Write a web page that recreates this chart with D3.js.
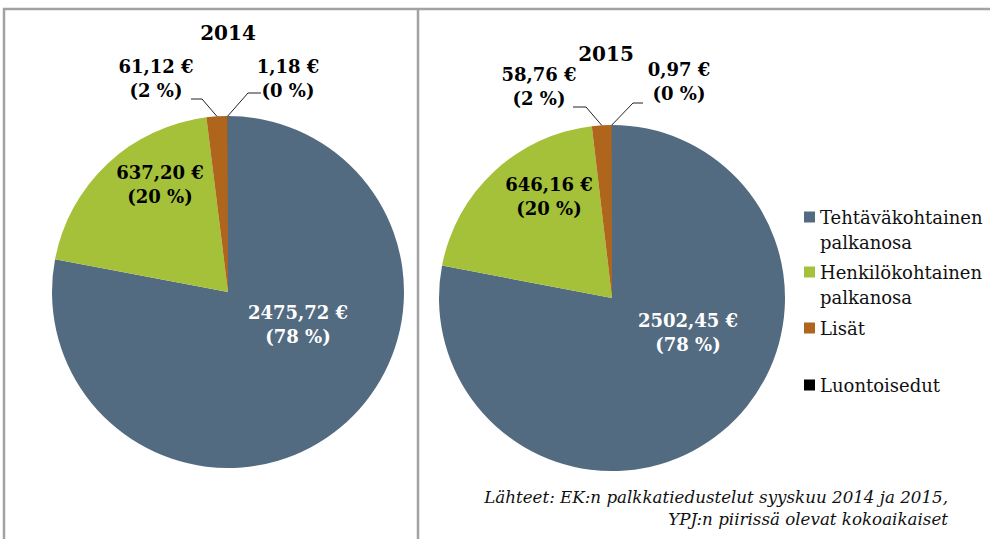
<!DOCTYPE html>
<html>
<head>
<meta charset="utf-8">
<script src="https://cdn.jsdelivr.net/npm/d3@7"></script>
<style>
  body { margin: 0; background: #fff; }
  svg { display: block; }
</style>
</head>
<body>
<div class="canvas"></div>
<script>
/**
 * Data
 */
const categories = ["Tehtäväkohtainen palkanosa", "Henkilökohtainen palkanosa", "Lisät", "Luontoisedut"]
const years = ["2014", "2015"]
const values2014 = [2475.72, 637.20, 61.12, 1.18]
const values2015 = [2502.45, 646.16, 58.76, 0.97]
const sourceLines = ["Lähteet: EK:n palkkatiedustelut syyskuu 2014 ja 2015,", "YPJ:n piirissä olevat kokoaikaiset"]

const colors = ["#536b80", "#a5c13a", "#b0651c", "#000000"]
const labelColors = ["#fff", "#000", "#000", "#000"]

/**
 * Dimension setup
 */
const dims = { width: 990, height: 539 }
const font = "'DejaVu Serif', Georgia, serif"

const svg = d3.select(".canvas")
    .append("svg")
    .attr("width", dims.width)
    .attr("height", dims.height)

// panel borders
svg.append("path")
    .attr("d", "M4,545 V9 H418 V545 M418,9 H995")
    .attr("fill", "none")
    .attr("stroke", "#a2a2a2")
    .attr("stroke-width", 2.5)

// layout per pie: center, radius, title spot, label spots (first baseline, relative to center)
const layouts = [
    {
        cx: 228, cy: 292, r: 176,
        title: [0, -252],
        labels: [[70, 27], [-68, -113], [-72, -219], [60, -219]],
        leaders: [null, null, [[-37, -193], [-26, -193]], [[33, -199], [20, -199]]]
    },
    {
        cx: 612, cy: 298, r: 173,
        title: [-6, -237],
        labels: [[76, 29], [-63, -107], [-73, -217], [67, -222]],
        leaders: [null, null, [[-39, -191], [-26, -191]], [[31, -195], [21, -195]]]
    }
]

const pie = d3.pie()
    .sort(null)
    .value(d => d)

const fmt = v => d3.format(".2f")(v).replace(".", ",") + " €"

const drawPie = (values, year, lay) => {
    const total = d3.sum(values)
    const arcPath = d3.arc().innerRadius(0).outerRadius(lay.r)
    const g = svg.append("g")
        .attr("transform", `translate(${lay.cx},${lay.cy})`)

    const arcs = pie(values)

    g.selectAll("path.slice")
        .data(arcs)
        .enter()
        .append("path")
            .attr("class", "slice")
            .attr("d", arcPath)
            .attr("fill", (d, i) => colors[i])

    // leader lines to the small slices
    arcs.forEach((d, i) => {
        const pts = lay.leaders[i]
        if (!pts) return
        const mid = (d.startAngle + d.endAngle) / 2
        const end = [Math.sin(mid) * lay.r, -Math.cos(mid) * lay.r]
        g.append("path")
            .attr("d", d3.line()([...pts, end]))
            .attr("fill", "none")
            .attr("stroke", "#222")
            .attr("stroke-width", 1)
    })

    // slice labels
    arcs.forEach((d, i) => {
        const [dx, dy] = lay.labels[i]
        const pct = Math.round(d.value / total * 100)
        const t = g.append("text")
            .attr("text-anchor", "middle")
            .attr("font-family", font)
            .attr("font-weight", "bold")
            .attr("font-size", 18)
            .attr("fill", labelColors[i])
        t.append("tspan").attr("x", dx).attr("y", dy).text(fmt(d.value))
        t.append("tspan").attr("x", dx).attr("y", dy + 24).text(`(${pct} %)`)
    })

    // title
    g.append("text")
        .attr("x", lay.title[0])
        .attr("y", lay.title[1])
        .attr("text-anchor", "middle")
        .attr("font-family", font)
        .attr("font-weight", "bold")
        .attr("font-size", 20)
        .text(year)
}

drawPie(values2014, years[0], layouts[0])
drawPie(values2015, years[1], layouts[1])

/**
 * Legend
 */
const legendRows = [
    { lines: ["Tehtäväkohtainen", "palkanosa"], y: 217 },
    { lines: ["Henkilökohtainen", "palkanosa"], y: 272 },
    { lines: ["Lisät"], y: 328 },
    { lines: ["Luontoisedut"], y: 385 }
]

const legend = svg.append("g")

legendRows.forEach((row, i) => {
    legend.append("rect")
        .attr("x", 804)
        .attr("y", row.y - 5.5)
        .attr("width", 11)
        .attr("height", 11)
        .attr("fill", colors[i])
    const t = legend.append("text")
        .attr("font-family", font)
        .attr("font-size", 18)
        .attr("fill", "#111")
        .attr("data-label", categories[i])
    row.lines.forEach((ln, j) => {
        t.append("tspan")
            .attr("x", 820)
            .attr("y", row.y + 7 + j * 25)
            .text(ln)
    })
})

/**
 * Source note
 */
svg.append("text")
    .attr("text-anchor", "end")
    .attr("font-family", font)
    .attr("font-style", "italic")
    .attr("font-size", 16.7)
    .attr("fill", "#111")
    .selectAll("tspan")
    .data(sourceLines)
    .enter()
    .append("tspan")
        .attr("x", 948)
        .attr("y", (d, i) => 503 + i * 22)
        .text(d => d)
</script>
</body>
</html>
